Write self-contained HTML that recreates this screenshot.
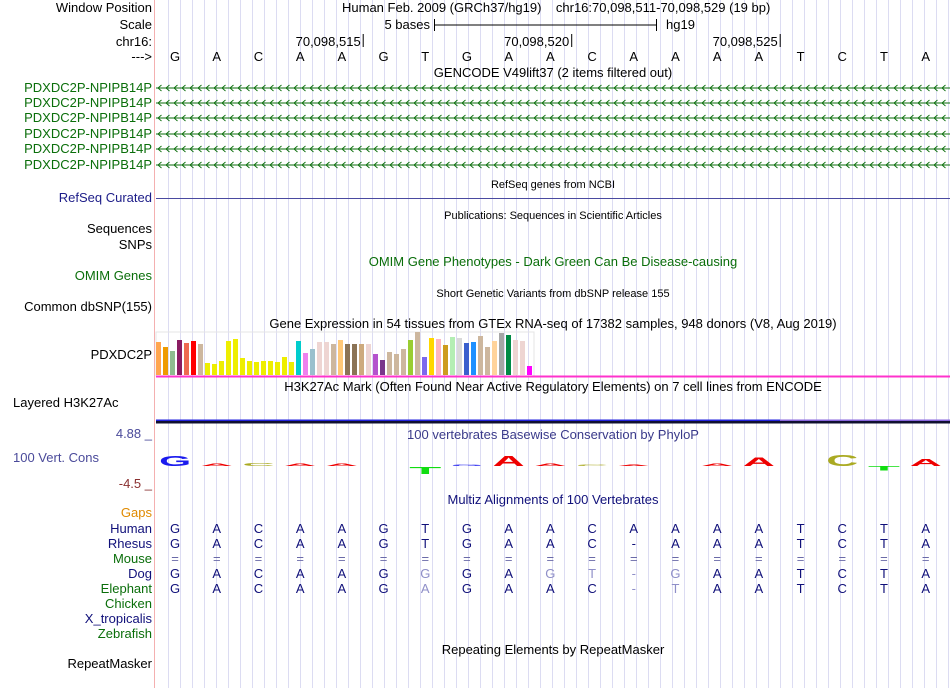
<!DOCTYPE html>
<html><head><meta charset="utf-8"><style>
html,body{margin:0;padding:0;background:#fff;}
svg{display:block;font-family:"Liberation Sans",sans-serif;}
</style></head><body>
<svg id="c" width="950" height="688" xmlns="http://www.w3.org/2000/svg">
<rect width="950" height="688" fill="#fff"/>
<g id="grid"></g>
<line x1="154.5" y1="0" x2="154.5" y2="688" stroke="#f4b0b0"/>
<g font-size="13" text-anchor="end" fill="#000">
<text x="152" y="12">Window Position</text>
<text x="152" y="29">Scale</text>
<text x="152" y="46">chr16:</text>
<text x="152" y="61">---&gt;</text>
<g fill="#0a6e0a">
<text x="152" y="92">PDXDC2P-NPIPB14P</text>
<text x="152" y="107">PDXDC2P-NPIPB14P</text>
<text x="152" y="122">PDXDC2P-NPIPB14P</text>
<text x="152" y="138">PDXDC2P-NPIPB14P</text>
<text x="152" y="153">PDXDC2P-NPIPB14P</text>
<text x="152" y="169">PDXDC2P-NPIPB14P</text>
</g>
<text x="152" y="202" fill="#1c1c88">RefSeq Curated</text>
<text x="152" y="233">Sequences</text>
<text x="152" y="249">SNPs</text>
<text x="152" y="280" fill="#0a6e0a">OMIM Genes</text>
<text x="152" y="311">Common dbSNP(155)</text>
<text x="152" y="359">PDXDC2P</text>
<text x="13" y="407" text-anchor="start">Layered H3K27Ac</text>
<text x="152" y="438" fill="#4a4a9a">4.88 _</text>
<text x="13" y="462" text-anchor="start" fill="#4a4a9a">100 Vert. Cons</text>
<text x="152" y="488" fill="#8a3030">-4.5 _</text>
<text x="152" y="517" fill="#e08a00">Gaps</text>
<text x="152" y="533" fill="#10107a">Human</text>
<text x="152" y="548" fill="#10107a">Rhesus</text>
<text x="152" y="563" fill="#0a6e0a">Mouse</text>
<text x="152" y="578" fill="#10107a">Dog</text>
<text x="152" y="593" fill="#0a6e0a">Elephant</text>
<text x="152" y="608" fill="#0a6e0a">Chicken</text>
<text x="152" y="623" fill="#10107a">X_tropicalis</text>
<text x="152" y="638" fill="#0a6e0a">Zebrafish</text>
<text x="152" y="668">RepeatMasker</text>
</g>
<g font-size="13" fill="#000" text-anchor="middle">
<text x="342" y="12" text-anchor="start" xml:space="preserve">Human Feb. 2009 (GRCh37/hg19)    chr16:70,098,511-70,098,529 (19 bp)</text>
<text x="430" y="29" text-anchor="end">5 bases</text>
<line x1="434" y1="25" x2="656" y2="25" stroke="#000"/>
<line x1="434.5" y1="19" x2="434.5" y2="31" stroke="#000"/>
<line x1="656.5" y1="19" x2="656.5" y2="31" stroke="#000"/>
<text x="666" y="29" text-anchor="start">hg19</text>
<text x="553" y="77">GENCODE V49lift37 (2 items filtered out)</text>
<text x="553" y="188" font-size="11">RefSeq genes from NCBI</text>
<text x="553" y="219" font-size="11">Publications: Sequences in Scientific Articles</text>
<text x="553" y="266" fill="#0a6e0a">OMIM Gene Phenotypes - Dark Green Can Be Disease-causing</text>
<text x="553" y="297" font-size="11">Short Genetic Variants from dbSNP release 155</text>
<text x="553" y="328">Gene Expression in 54 tissues from GTEx RNA-seq of 17382 samples, 948 donors (V8, Aug 2019)</text>
<text x="553" y="391">H3K27Ac Mark (Often Found Near Active Regulatory Elements) on 7 cell lines from ENCODE</text>
<text x="553" y="439" fill="#3a3a8a">100 vertebrates Basewise Conservation by PhyloP</text>
<text x="553" y="504" fill="#10107a">Multiz Alignments of 100 Vertebrates</text>
<text x="553" y="654">Repeating Elements by RepeatMasker</text>
</g>
<g id="ruler" font-size="13"></g>
<g id="genes"></g>
<line x1="156" y1="198.5" x2="950" y2="198.5" stroke="#4a4aa0"/>
<rect x="156" y="332" width="378" height="44" fill="none" stroke="#e4e4e4"/>
<g id="gtex"></g>
<rect x="156" y="375.5" width="794" height="2" fill="#ff33cc"/>
<rect x="156" y="419.5" width="624" height="1.5" fill="#2222dd"/>
<rect x="780" y="419.5" width="170" height="1.5" fill="#8866dd"/>
<rect x="156" y="421" width="794" height="2.5" fill="#101030"/>
<g id="logo"></g>
<g id="maf" font-size="13" text-anchor="middle"></g>
</svg>
<script>
const NS="http://www.w3.org/2000/svg";
const ref="GACAAGTGAACAAAATCTA".split("");
const rhesusSeq="GACAAGTGAAC-AAATCTA".split("");
const mouseSeq="===================".split("");
const dogSeq="GACAAGGGAGT-GAATCTA".split("");
const dogLight=[0,0,0,0,0,0,1,0,0,1,1,1,1,0,0,0,0,0,0];
const elephantSeq="GACAAGAGAAC-TAATCTA".split("");
const elephantLight=[0,0,0,0,0,0,1,0,0,0,0,1,1,0,0,0,0,0,0];
const tickPositions=[70098515,70098520,70098525];
const tickLabels=["70,098,515","70,098,520","70,098,525"];
const startPos=70098511;
const gtexValues=[33,28,24,35,32,34,31,12,11,14,34,36,17,14,13,14,14,13,18,13,34,22,26,33,33,31,35,31,31,31,31,21,15,23,21,26,35,43,18,37,36,30,38,37,32,33,39,28,34,42,40,35,34,9];
const gtexColors=["#FFA54F","#EE9A00","#8FBC8F","#8B1C62","#EE6A50","#FF0000","#CDB79E","#EEEE00","#EEEE00","#EEEE00","#EEEE00","#EEEE00","#EEEE00","#EEEE00","#EEEE00","#EEEE00","#EEEE00","#EEEE00","#EEEE00","#EEEE00","#00CDCD","#EE82EE","#9AC0CD","#EED5D2","#EED5D2","#CDB79E","#FFC878","#8B7355","#8B7355","#CDAA7D","#EED5D2","#B452CD","#7A378B","#CDB79E","#CDB79E","#CDB79E","#9ACD32","#CDB79E","#7B68EE","#FFD700","#FFB6C1","#CD9B1D","#B4EEB4","#D9D9D9","#3A5FCD","#1E90FF","#CDB79E","#CDB79E","#FFD39B","#A6A6A6","#008B45","#EED5D2","#EED5D2","#FF00FF"];
const phyloP=[3.6,0.8,1.0,0.9,0.9,0,-2.5,0.3,3.5,0.8,0.3,0.3,0,0.8,2.8,0,3.8,-1.5,2.4];
const W=41.7, X0=154.2;
const xs=i=>X0+W*(i+0.5);
const posX=p=>X0+W*(p-startPos+1);
function mk(tag,attrs,parent){const e=document.createElementNS(NS,tag);for(const k in attrs)e.setAttribute(k,attrs[k]);parent.appendChild(e);return e;}
const grid=document.getElementById('grid');
for(let x=168;x<950;x+=12){const l=mk('line',{x1:x+.5,y1:0,x2:x+.5,y2:688,stroke:'#dcdcf2'},grid);

}
const ruler=document.getElementById('ruler');
tickPositions.forEach((p,i)=>{const x=posX(p);
const t=mk('text',{x:x-2,y:46,'text-anchor':'end'},ruler);t.textContent=tickLabels[i];


const l=mk('line',{x1:x+.5,y1:34,x2:x+.5,y2:47,stroke:'#000'},ruler);

});
ref.forEach((b,i)=>{const t=mk('text',{x:xs(i),y:61,'text-anchor':'middle'},ruler);t.textContent=b;

});
const genes=document.getElementById('genes');
[88,103,118,134,149,165].forEach(y=>{
const g=mk('g',{},genes);


mk('line',{x1:156,y1:y,x2:950,y2:y,stroke:'#0a6e0a'},g);
let d='';for(let x=158;x<948;x+=8){d+=`M${x+3.5},${y-3}L${x},${y}L${x+3.5},${y+3}`;}
mk('path',{d:d,stroke:'#0a6e0a',fill:'none','stroke-width':0.9},g);});
const gtex=document.getElementById('gtex');
const gy=v=>375-v;
gtexValues.forEach((v,i)=>{const r=mk('rect',{x:156+7*i,y:gy(v),width:5,height:v,fill:gtexColors[i]},gtex);

});
const logo=document.getElementById('logo');
const zeroY=466, pScale=3.1;
const colorOf={A:'#ee0000',C:'#aaaa22',G:'#1a1aee',T:'#11dd11'};
phyloP.forEach((v,i)=>{if(v===0)return;const h=Math.max(1,Math.abs(v)*pScale);const b=ref[i];
const x=xs(i);const y0=v>0?zeroY:zeroY+h;
const g=mk('g',{transform:`translate(${x},${y0}) scale(1,${h/12})`},logo);
const t=mk('text',{x:0,y:0,'font-size':16,'font-weight':'bold','text-anchor':'middle',fill:colorOf[b],textLength:32,lengthAdjust:'spacingAndGlyphs'},g);
t.textContent=b;

});
const maf=document.getElementById('maf');
function row(seq,y,light,col,name){seq.forEach((b,i)=>{const t=mk('text',{x:xs(i),y:y,fill:light&&light[i]?'#8f8fc8':col},maf);t.textContent=b;

});}
row(ref,533,null,'#10107a','human-base');
row(rhesusSeq,548,null,'#10107a','rhesus-base');
row(mouseSeq,563,null,'#6a6aa8','mouse-base');
row(dogSeq,578,dogLight,'#10107a','dog-base');
row(elephantSeq,593,elephantLight,'#10107a','elephant-base');
</script>
</body></html>
